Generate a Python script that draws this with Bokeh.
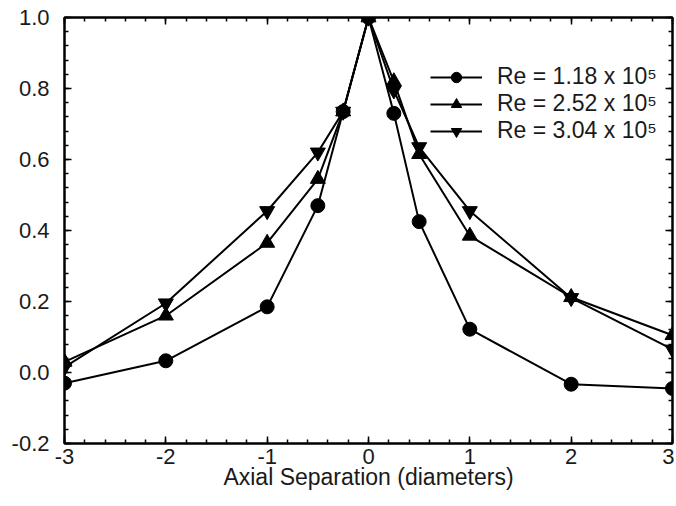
import numpy as np
from bokeh.plotting import figure
from bokeh.models import (Range1d, FixedTicker, LinearAxis, Legend, LegendItem, Label)
from bokeh.embed import file_html
from bokeh.resources import INLINE

# ---- data ----
separation = [-3, -2, -1, -0.5, -0.25, 0, 0.25, 0.5, 1, 2, 3]
re_118 = [-0.03, 0.033, 0.185, 0.47, 0.735, 1.0, 0.73, 0.425, 0.122, -0.033, -0.045]
re_252 = [0.03, 0.16, 0.365, 0.545, 0.735, 1.0, 0.82, 0.615, 0.385, 0.212, 0.105]
re_304 = [0.015, 0.195, 0.455, 0.62, 0.735, 1.0, 0.795, 0.635, 0.455, 0.21, 0.065]
series_labels = ["Re = 1.18 x 10\u2075", "Re = 2.52 x 10\u2075", "Re = 3.04 x 10\u2075"]

x_ticks = [-3, -2, -1, 0, 1, 2, 3]
x_tick_labels = ["-3", "-2", "-1", "0", "1", "2", "3"]
y_ticks = [-0.2, 0.0, 0.2, 0.4, 0.6, 0.8, 1.0]
y_tick_labels = ["-0.2", "0.0", "0.2", "0.4", "0.6", "0.8", "1.0"]

FONT = "Liberation Sans"
TXT = "#1a1a1a"

p = figure(width=674, height=504, output_backend="svg", toolbar_location=None,
           x_range=Range1d(-3, 3), y_range=Range1d(-0.2, 1.0),
           min_border_left=64, min_border_right=2, min_border_top=17, min_border_bottom=61)
p.grid.visible = False
p.outline_line_color = "black"
p.outline_line_width = 2
p.background_fill_color = "white"
p.border_fill_color = "white"

x_minor = list(np.round(np.arange(-3, 3.0001, 0.2), 2))
y_minor = list(np.round(np.arange(-0.2, 1.0001, 0.04), 2))
xt = FixedTicker(ticks=x_ticks, minor_ticks=x_minor)
yt = FixedTicker(ticks=y_ticks, minor_ticks=y_minor)

def style(ax, show_labels):
    ax.axis_line_color = "black"
    ax.axis_line_width = 2
    ax.major_tick_in = 7
    ax.major_tick_out = 0
    ax.minor_tick_in = 4
    ax.minor_tick_out = 0
    ax.major_tick_line_width = 1.5
    ax.minor_tick_line_width = 1.5
    ax.major_tick_line_color = "black"
    ax.minor_tick_line_color = "black"
    if show_labels:
        ax.major_label_text_font = FONT
        ax.major_label_text_font_size = "22px"
        ax.major_label_text_color = TXT
    else:
        ax.major_label_text_font_size = "1px"
        ax.major_label_text_color = None
        ax.major_label_standoff = 0

xa = p.xaxis[0]
xa.ticker = xt
xa.major_label_overrides = dict(zip(x_ticks, x_tick_labels))
style(xa, True)
xa.major_label_standoff = 5
xa.axis_label = "Axial Separation (diameters)"
xa.axis_label_text_font = FONT
xa.axis_label_text_font_style = "normal"
xa.axis_label_text_font_size = "23px"
xa.axis_label_text_color = TXT
xa.axis_label_standoff = -3

ya = p.yaxis[0]
ya.ticker = yt
ya.major_label_overrides = dict(zip(y_ticks, y_tick_labels))
style(ya, True)
ya.major_label_standoff = 15

top = LinearAxis(ticker=FixedTicker(ticks=x_ticks, minor_ticks=x_minor))
style(top, False)
p.add_layout(top, "above")
right = LinearAxis(ticker=FixedTicker(ticks=y_ticks, minor_ticks=y_minor))
style(right, False)
p.add_layout(right, "right")

items = []
for ys, marker, lab in zip([re_118, re_252, re_304],
                           ["circle", "triangle", "inverted_triangle"], series_labels):
    l = p.line(separation, ys, line_color="black", line_width=2)
    s = p.scatter(separation, ys, marker=marker, size=14 if marker == "circle" else 15,
                  fill_color="black", line_color="black")
    items.append(LegendItem(label=lab, renderers=[l, s]))

legend = Legend(items=items, location=(366, 299), padding=0, margin=0,
                border_line_color=None, background_fill_alpha=0,
                label_text_font=FONT, label_text_font_size="23px", label_text_color=TXT,
                glyph_width=52, glyph_height=26, label_height=26, spacing=0,
                label_standoff=15)
p.add_layout(legend, "center")

# y-axis label rho_xy
p.add_layout(Label(x=-3.41, y=0.53, text="\u03c1", text_font=FONT, text_font_size="21px",
                   text_color=TXT, text_align="center", text_baseline="middle"))
p.add_layout(Label(x=-3.255, y=0.51, text="xy", text_font=FONT, text_font_size="14px",
                   text_color=TXT, text_align="center", text_baseline="middle"))

open("out.html", "w").write(file_html(p, INLINE))
